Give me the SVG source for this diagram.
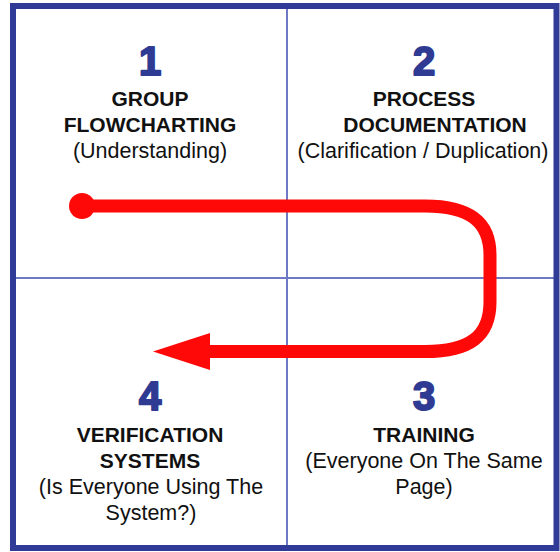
<svg xmlns="http://www.w3.org/2000/svg" width="560" height="552" viewBox="0 0 560 552">
  <style>
    .num { font-family: "Liberation Sans", Arial, sans-serif; font-weight: bold; font-size: 40px; fill: #2f3b92; stroke: #2f3b92; stroke-width: 2; stroke-linejoin: round; text-anchor: middle; }
    .title { font-family: "Liberation Sans", Arial, sans-serif; font-weight: bold; font-size: 21px; fill: #111; text-anchor: middle; }
    .sub { font-family: "Liberation Sans", Arial, sans-serif; font-size: 21.5px; fill: #111; text-anchor: middle; }
    .grid { stroke: #6f78c2; stroke-width: 2; }
    .flow { fill: none; stroke: #ff0808; stroke-width: 13; }
  </style>

  <rect width="560" height="552" fill="#ffffff"/>

  <!-- quadrant dividers -->
  <g id="grid">
    <line class="grid" x1="287" y1="8" x2="287" y2="546"/>
    <line class="grid" x1="15" y1="278" x2="554" y2="278"/>
  </g>

  <!-- outer frame -->
  <rect x="13" y="6" width="543.5" height="542" fill="none" stroke="#2f3b96" stroke-width="6"/>

  <g id="step1">
    <text class="num" x="150" y="75">1</text>
    <text class="title" x="150" y="106">GROUP</text>
    <text class="title" x="150" y="132">FLOWCHARTING</text>
    <text class="sub" x="150" y="158">(Understanding)</text>
  </g>

  <g id="step2">
    <text class="num" x="424" y="75">2</text>
    <text class="title" x="424" y="106">PROCESS</text>
    <text class="title" x="435" y="132">DOCUMENTATION</text>
    <text class="sub" x="423" y="158">(Clarification / Duplication)</text>
  </g>

  <g id="step3">
    <text class="num" x="424" y="410">3</text>
    <text class="title" x="424" y="442">TRAINING</text>
    <text class="sub" x="424" y="468">(Everyone On The Same</text>
    <text class="sub" x="424" y="494">Page)</text>
  </g>

  <g id="step4">
    <text class="num" x="150" y="410">4</text>
    <text class="title" x="150" y="442">VERIFICATION</text>
    <text class="title" x="150" y="468">SYSTEMS</text>
    <text class="sub" x="151" y="494">(Is Everyone Using The</text>
    <text class="sub" x="151" y="520">System?)</text>
  </g>

  <!-- U-turn flow arrow -->
  <g id="connectors">
    <circle cx="82" cy="206" r="13" fill="#ff0808"/>
    <path class="flow" d="M 82 206 H 425 C 470 206 490 222 490 255 V 302 C 490 336 470 351.5 425 351.5 H 205"/>
    <polygon points="153,351.5 210,333 210,370" fill="#ff0808"/>
  </g>
</svg>
